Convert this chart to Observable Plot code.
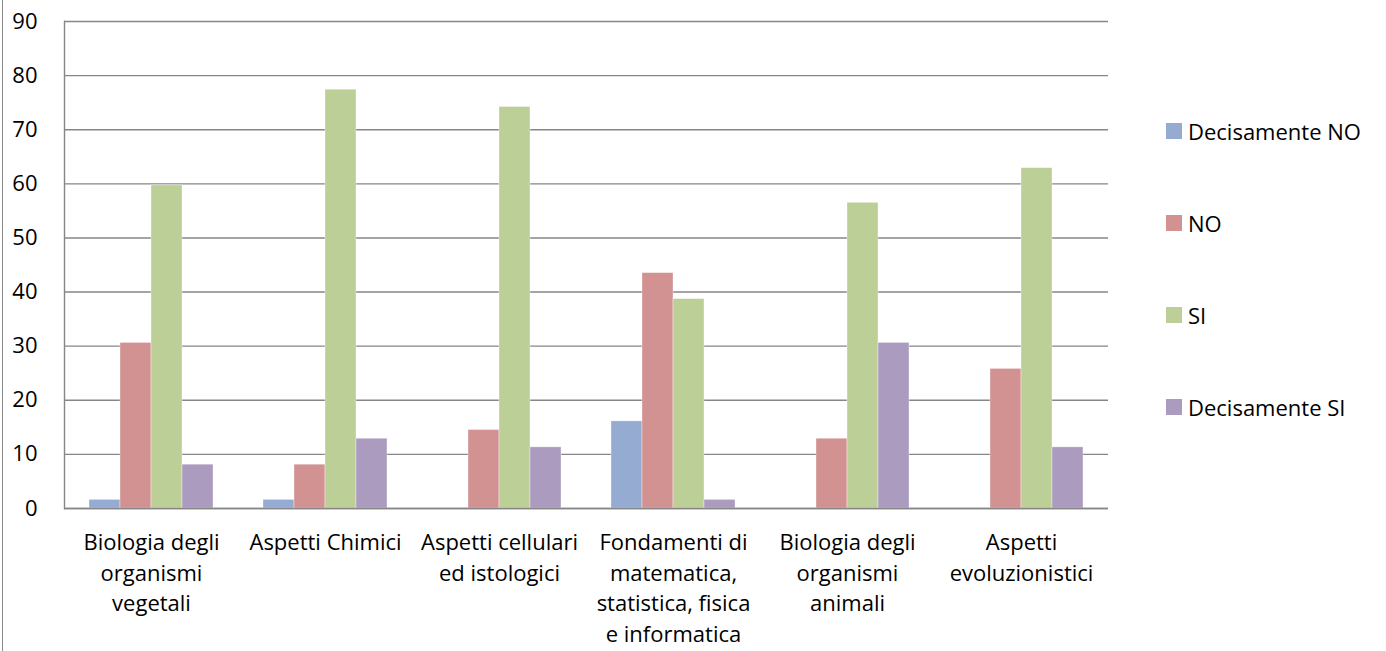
<!DOCTYPE html>
<html>
<head>
<meta charset="utf-8">
<script src="https://cdn.jsdelivr.net/npm/d3@7"></script>
<script src="https://cdn.jsdelivr.net/npm/@observablehq/plot@0.6"></script>
<style>
  html, body { margin: 0; padding: 0; background: #fff; }
  #wrap { position: relative; width: 1386px; height: 651px; overflow: hidden; font-family: "Open Sans", sans-serif; }
  #border { position: absolute; left: 2px; top: 0; width: 0; height: 651px; border-left: 1px solid #8a8a8a; }
  #legend { position: absolute; left: 1166px; top: 116px; display: flex; flex-direction: column; gap: 62px; }
  .item { display: flex; align-items: center; height: 30px; font-size: 22px; color: #000; white-space: nowrap; }
  .sw { width: 16px; height: 16px; margin-right: 6px; flex: none; }
</style>
</head>
<body>
<div id="wrap"><div id="border"></div><div id="legend"></div></div>
<script>
const categories = [
  "Biologia degli organismi vegetali",
  "Aspetti Chimici",
  "Aspetti cellulari ed istologici",
  "Fondamenti di matematica, statistica, fisica e informatica",
  "Biologia degli organismi animali",
  "Aspetti evoluzionistici"
];
const categoryLabels = [
  "Biologia degli\norganismi\nvegetali",
  "Aspetti Chimici",
  "Aspetti cellulari\ned istologici",
  "Fondamenti di\nmatematica,\nstatistica, fisica\ne informatica",
  "Biologia degli\norganismi\nanimali",
  "Aspetti\nevoluzionistici"
];
const series = ["Decisamente NO", "NO", "SI", "Decisamente SI"];
const colors = ["#95ABD1", "#D19291", "#BBCF97", "#AA9BBF"];
const decisamenteNO = [1.6, 1.6, 0, 16.1, 0, 0];
const no = [30.6, 8.1, 14.5, 43.5, 12.9, 25.8];
const si = [59.7, 77.4, 74.2, 38.7, 56.5, 62.9];
const decisamenteSI = [8.1, 12.9, 11.3, 1.6, 30.6, 11.3];
const yTicks = [0, 10, 20, 30, 40, 50, 60, 70, 80, 90];

const seriesValues = [decisamenteNO, no, si, decisamenteSI];
const data = [];
categories.forEach((c, i) => {
  series.forEach((s, j) => data.push({category: c, series: s, value: seriesValues[j][i]}));
});
const labelOf = new Map(categories.map((c, i) => [c, categoryLabels[i]]));

const chart = Plot.plot({
  width: 1386,
  height: 651,
  marginLeft: 62,
  marginRight: 276,
  marginTop: 21,
  marginBottom: 143,
  style: {fontFamily: "Open Sans, sans-serif", fontSize: "22px", color: "#000", background: "transparent"},
  fx: {domain: categories, padding: 0, label: null},
  x: {domain: series, paddingInner: 0, paddingOuter: 0.73, axis: null},
  y: {domain: [0, 90], label: null},
  color: {domain: series, range: colors},
  marks: [
    Plot.gridY(yTicks, {stroke: "#868686", strokeOpacity: 1, strokeWidth: 1.4}),
    Plot.barY(data, {fx: "category", x: "series", y: "value", fill: "series", stroke: "#ffffff", strokeOpacity: 0.6, strokeWidth: 0.6}),
    Plot.ruleY([0], {stroke: "#868686", strokeWidth: 1.6}),
    Plot.frame({anchor: "left", stroke: "#868686", strokeWidth: 1.4, facet: "super"}),
    Plot.axisY(yTicks, {tickSize: 0, tickPadding: 27, fontSize: 22, tickFormat: d => String(d)}),
    Plot.axisFx({anchor: "bottom", tickSize: 0, tickPadding: 20, fontSize: 22, lineHeight: 1.39, label: null, tickFormat: d => labelOf.get(d)})
  ]
});
document.getElementById("wrap").appendChild(chart);
chart.style.position = "absolute";
chart.style.left = "0";
chart.style.top = "0";

const legend = document.getElementById("legend");
series.forEach((s, i) => {
  const item = document.createElement("div");
  item.className = "item";
  const sw = document.createElement("span");
  sw.className = "sw";
  sw.style.background = colors[i];
  const t = document.createElement("span");
  t.textContent = s;
  item.appendChild(sw);
  item.appendChild(t);
  legend.appendChild(item);
});
</script>
</body>
</html>
